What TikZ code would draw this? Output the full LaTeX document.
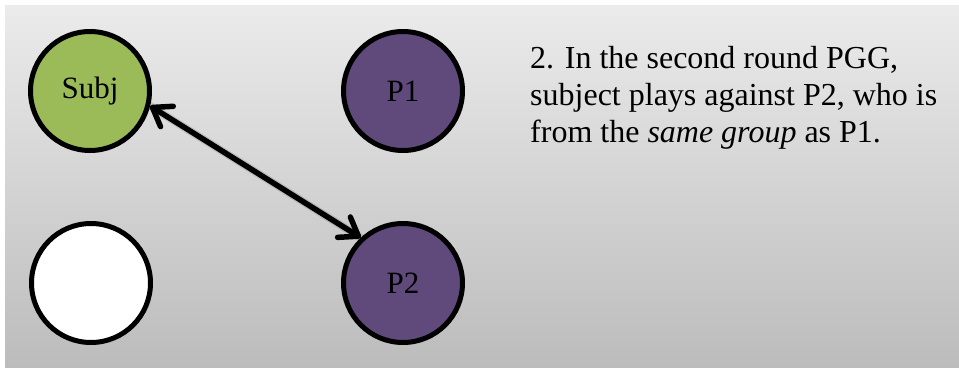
\documentclass[tikz,border=0pt]{standalone}
\usepackage{fontspec}
\setmainfont{Liberation Serif}
\usetikzlibrary{arrows.meta}
\definecolor{subjc}{RGB}{155,187,89}
\definecolor{playc}{RGB}{95,74,123}
\definecolor{panelt}{RGB}{235,235,235}
\definecolor{panelb}{RGB}{188,188,188}

\begin{document}
\begin{tikzpicture}[x=1pt, y=-1pt, line cap=round,
    agent/.style={circle, draw=black, line width=5pt, minimum size=119pt,
      inner sep=0pt, font=\fontsize{31}{36}\selectfont},
    link/.style={{Straight Barb[length=17pt, width=24pt, round]}-{Straight Barb[length=17pt, width=24pt, round]},
      line width=5.5pt}]
  \useasboundingbox (0,0) rectangle (959,367);
  \fill[white] (0,0) rectangle (959,367);

  % gray panel, lighter at the top
  \shade[top color=panelt, bottom color=panelb] (5,5) rectangle (959,367);

  % the four players
  \node[agent, fill=subjc] (subj) at (90,91) {Subj};
  \node[agent, fill=white] (other) at (91,283) {};
  \node[agent, fill=playc] (p1) at (403,91) {P1};
  \node[agent, fill=playc] (p2) at (403,283) {P2};

  % subject plays P2 (soft shadow first)
  \draw[line width=8pt, black, opacity=0.12, shift={(2,4)}] (subj.-14) -- (p2.133);
  \draw[link] (subj.-14) -- (p2.133);

  % annotation, placed by the baseline of its last line
  \node[anchor=base west, align=left, inner sep=0pt,
    font=\fontsize{32}{37}\selectfont] (note) at (530,142)
    {2. In the second round PGG,\\
     subject plays against P2, who is\\
     from the \textit{same group} as P1.};
\end{tikzpicture}
\end{document}
